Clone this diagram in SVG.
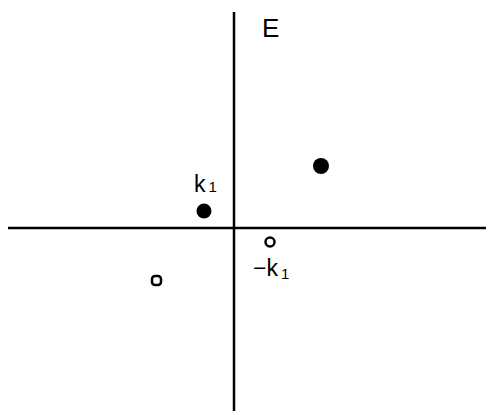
<svg xmlns="http://www.w3.org/2000/svg" width="493" height="415" viewBox="0 0 493 415">
<style>
.ax{stroke:#000;stroke-width:2.5;fill:none}
.f{fill:#000}
.o{fill:#fff;stroke:#000;stroke-width:2.5}
text{font-family:"Liberation Sans",Arial,sans-serif;fill:#000}
</style>
<rect width="493" height="415" fill="#fff"/>
<g id="connectors">
<line class="ax" x1="234" y1="12" x2="234" y2="411"/>
<line class="ax" x1="8" y1="228" x2="486" y2="228"/>
</g>
<g id="label-E"><text x="262" y="37" font-size="26">E</text></g>
<g id="k1"><circle class="f" cx="204" cy="211" r="7.5"/><text x="194" y="192" font-size="23">k<tspan font-size="15" dx="3">1</tspan></text></g>
<g id="p2"><circle class="f" cx="321" cy="166" r="8"/></g>
<g id="mk1"><circle class="o" cx="270" cy="242" r="4.5"/><text x="253" y="276" font-size="23">−k<tspan font-size="15" dx="3" dy="3">1</tspan></text></g>
<g id="p4"><rect class="o" x="152" y="276" width="9" height="9" rx="3"/></g>
</svg>
